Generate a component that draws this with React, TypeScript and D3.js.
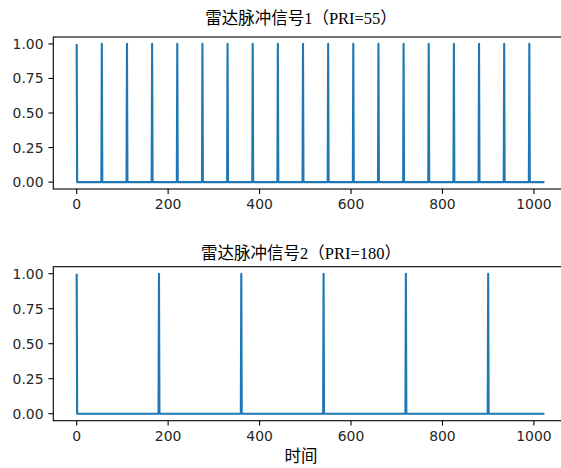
import React from "react";
import * as d3 from "d3";

// Radar pulse trains: sample count and pulse onset indices for each signal
const SAMPLE_COUNT = 1024;
const PULSES_1 = [0, 55, 110, 165, 220, 275, 330, 385, 440, 495, 550, 605, 660, 715, 770, 825, 880, 935, 990];
const PULSES_2 = [0, 180, 360, 540, 720, 900];
const TITLES = ["雷达脉冲信号1（PRI=55）", "雷达脉冲信号2（PRI=180）"];
const X_TICKS = [0, 200, 400, 600, 800, 1000];
const Y_TICKS = [0, 0.25, 0.5, 0.75, 1.0];
const X_LABEL = "时间";

const W = 561;
const H = 468;
const COLOR = "#1f77b4";
const TICK_FONT = "'DejaVu Sans', sans-serif";
const CJK_FONT = "'Liberation Serif', 'Noto Sans CJK SC', serif";

function buildSignal(pulses: number[]): number[] {
  const s = new Array(SAMPLE_COUNT).fill(0);
  pulses.forEach((p) => (s[p] = 1));
  return s;
}

const SIGNALS = [buildSignal(PULSES_1), buildSignal(PULSES_2)];

// Axes frames (pixel boxes) for the two panels
const PANELS = [
  { top: 37, bottom: 189, titleY: 24 },
  { top: 266.7, bottom: 420.7, titleY: 259 },
];
const LEFT = 53.3;
const RIGHT = 567.8;
const TITLE_X = 301;

function Panel({ idx }: { idx: number }) {
  const { top, bottom, titleY } = PANELS[idx];
  const data = SIGNALS[idx];
  const xMargin = (SAMPLE_COUNT - 1) * 0.05;
  const x = d3.scaleLinear().domain([-xMargin, SAMPLE_COUNT - 1 + xMargin]).range([LEFT, RIGHT]);
  const y = d3.scaleLinear().domain([-0.05, 1.05]).range([bottom, top]);
  const line = d3
    .line<number>()
    .x((_, i) => x(i))
    .y((d) => y(d));
  const tickLen = 4.9;
  return (
    <g>
      <text
        x={TITLE_X}
        y={titleY}
        textAnchor="middle"
        fontFamily={CJK_FONT}
        fontSize={16.5}
        fill="#000"
      >
        {TITLES[idx]}
      </text>
      <path d={line(data) || ""} fill="none" stroke={COLOR} strokeWidth={2.1} strokeLinejoin="round" />
      <rect x={LEFT} y={top} width={RIGHT - LEFT} height={bottom - top} fill="none" stroke="#000" strokeWidth={1.1} />
      {X_TICKS.map((t) => (
        <g key={"x" + t}>
          <line x1={x(t)} x2={x(t)} y1={bottom} y2={bottom + tickLen} stroke="#000" strokeWidth={1.1} />
          <text
            x={x(t)}
            y={bottom + tickLen + 4.9 + 10.2}
            textAnchor="middle"
            fontFamily={TICK_FONT}
            fontSize={13.9}
            fill="#262626"
          >
            {t}
          </text>
        </g>
      ))}
      {Y_TICKS.map((t) => (
        <g key={"y" + t}>
          <line x1={LEFT - tickLen} x2={LEFT} y1={y(t)} y2={y(t)} stroke="#000" strokeWidth={1.1} />
          <text
            x={LEFT - tickLen - 4.9}
            y={y(t)}
            dy="0.36em"
            textAnchor="end"
            fontFamily={TICK_FONT}
            fontSize={13.9}
            fill="#262626"
          >
            {t.toFixed(2)}
          </text>
        </g>
      ))}
    </g>
  );
}

export default function App() {
  return (
    <svg
      width={W}
      height={H}
      viewBox={`0 0 ${W} ${H}`}
      style={{ position: "absolute", left: 0, top: 0, background: "#fff" }}
    >
      <rect x={0} y={0} width={W} height={H} fill="#fff" />
      <Panel idx={0} />
      <Panel idx={1} />
      <text x={TITLE_X} y={462} textAnchor="middle" fontFamily={CJK_FONT} fontSize={16.5} fill="#000">
        {X_LABEL}
      </text>
    </svg>
  );
}
